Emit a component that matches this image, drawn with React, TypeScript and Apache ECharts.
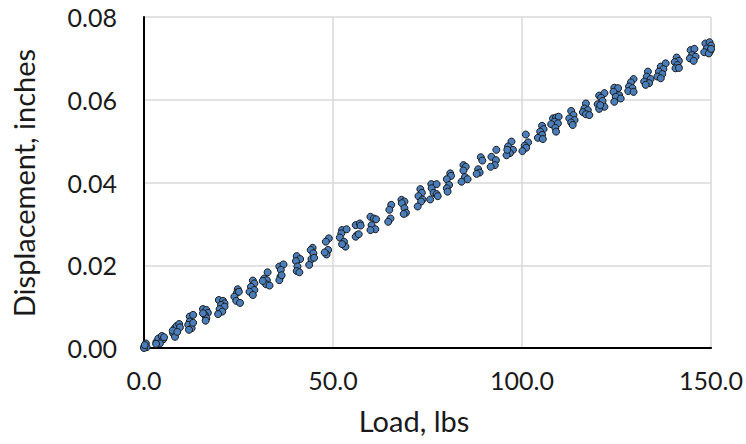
import React, { useEffect, useRef } from "react";
import * as echarts from "echarts";

// Load (lbs) and displacement (inches), cluster by cluster
const loads: number[] = [
  0.1, 0.5, 0.7, 0.0, 0.2,
  3.3, 3.8, 4.7, 5.1, 5.3, 4.2, 3.2,
  7.7, 8.2, 8.6, 9.3, 9.5, 8.2, 7.6, 8.8,
  12.1, 13.0, 12.1, 11.7, 12.6, 11.9, 13.0,
  15.6, 16.5, 16.9, 16.1, 16.5, 16.3, 15.6,
  19.8, 20.9, 21.3, 20.4, 21.3, 20.0, 20.7, 19.6,
  24.8, 24.6, 23.9, 24.4, 25.4, 25.1,
  28.8, 29.2, 28.3, 29.2, 27.9, 28.8,
  32.7, 31.8, 32.5, 32.3, 33.2, 31.4,
  35.8, 36.9, 36.2, 36.1, 35.8, 36.4,
  40.4, 41.3, 40.2, 40.6, 40.4, 41.1,
  44.6, 44.1, 44.8, 44.3, 43.7, 45.0,
  48.9, 48.1, 48.7, 48.3, 47.8,
  52.4, 53.6, 52.2, 51.8, 52.9, 53.3, 52.4,
  56.0, 57.1, 57.3, 56.4, 56.0, 56.8,
  59.9, 60.8, 61.4, 60.2, 61.2, 59.9,
  65.4, 64.9, 65.2, 64.6,
  68.1, 68.9, 68.2, 68.9, 69.3, 68.7,
  73.1, 73.5, 72.6, 73.7, 73.3, 72.4,
  76.0, 77.4, 76.1, 76.6, 77.4, 77.7, 75.7,
  81.0, 81.2, 80.1, 80.7, 80.1, 80.3,
  84.5, 85.1, 84.5, 84.9, 84.0, 85.6,
  89.1, 89.5, 88.4, 88.8, 88.0,
  93.2, 91.9, 93.1, 92.8, 91.7,
  97.2, 96.3, 97.6, 96.8, 95.9, 96.1,
  101.0, 101.6, 100.7, 101.1, 100.1,
  105.3, 105.7, 104.8, 105.3, 104.2, 105.5,
  108.2, 109.0, 109.7, 108.6, 109.5, 107.7, 108.8, 109.0,
  113.0, 113.6, 112.5, 113.9, 113.0, 113.4,
  116.9, 116.5, 117.4, 116.1, 116.9, 117.8,
  120.4, 121.8, 120.9, 121.3, 120.0, 121.8, 120.4, 120.7,
  124.4, 125.4, 124.2, 125.7, 124.8, 126.1, 124.4,
  129.5, 128.8, 128.3, 129.2, 128.1, 129.5,
  133.3, 133.0, 134.0, 132.3, 133.6, 132.7,
  136.7, 138.0, 137.4, 136.2, 137.1, 135.8, 136.7,
  140.9, 141.5, 140.4, 141.1, 140.6, 141.5,
  144.6, 145.6, 145.0, 145.9, 144.4, 145.4,
  148.5, 149.6, 150.0, 148.9, 149.8, 148.2, 149.4, 150.0,
];

const displacements: number[] = [
  0.0003, 0.0011, 0.0002, 0.0000, 0.0007,
  0.0015, 0.0023, 0.0029, 0.0021, 0.0026, 0.0011, 0.0010,
  0.0036, 0.0048, 0.0053, 0.0058, 0.0050, 0.0027, 0.0042, 0.0039,
  0.0076, 0.0080, 0.0064, 0.0056, 0.0048, 0.0044, 0.0061,
  0.0094, 0.0092, 0.0085, 0.0080, 0.0072, 0.0066, 0.0084,
  0.0116, 0.0114, 0.0108, 0.0104, 0.0100, 0.0094, 0.0088, 0.0082,
  0.0142, 0.0134, 0.0124, 0.0114, 0.0109, 0.0136,
  0.0163, 0.0156, 0.0148, 0.0140, 0.0136, 0.0128,
  0.0183, 0.0168, 0.0164, 0.0154, 0.0151, 0.0162,
  0.0197, 0.0202, 0.0189, 0.0172, 0.0164, 0.0176,
  0.0222, 0.0215, 0.0210, 0.0197, 0.0186, 0.0183,
  0.0242, 0.0237, 0.0229, 0.0215, 0.0201, 0.0218,
  0.0265, 0.0257, 0.0237, 0.0226, 0.0231,
  0.0285, 0.0287, 0.0277, 0.0267, 0.0257, 0.0245, 0.0251,
  0.0297, 0.0301, 0.0296, 0.0273, 0.0269, 0.0275,
  0.0317, 0.0313, 0.0311, 0.0297, 0.0287, 0.0285,
  0.0346, 0.0334, 0.0313, 0.0305,
  0.0358, 0.0354, 0.0350, 0.0338, 0.0327, 0.0324,
  0.0384, 0.0375, 0.0367, 0.0359, 0.0354, 0.0342,
  0.0396, 0.0396, 0.0386, 0.0375, 0.0372, 0.0367, 0.0359,
  0.0422, 0.0416, 0.0408, 0.0394, 0.0386, 0.0378,
  0.0442, 0.0438, 0.0429, 0.0413, 0.0402, 0.0408,
  0.0461, 0.0453, 0.0432, 0.0424, 0.0421,
  0.0479, 0.0462, 0.0454, 0.0442, 0.0438,
  0.0499, 0.0487, 0.0479, 0.0471, 0.0466, 0.0479,
  0.0516, 0.0497, 0.0489, 0.0484, 0.0476,
  0.0537, 0.0529, 0.0523, 0.0515, 0.0508, 0.0505,
  0.0555, 0.0557, 0.0559, 0.0547, 0.0543, 0.0541, 0.0532, 0.0523,
  0.0573, 0.0563, 0.0555, 0.0551, 0.0545, 0.0539,
  0.0591, 0.0579, 0.0575, 0.0570, 0.0565, 0.0563,
  0.0610, 0.0616, 0.0605, 0.0597, 0.0589, 0.0583, 0.0578, 0.0587,
  0.0629, 0.0628, 0.0619, 0.0611, 0.0607, 0.0603, 0.0595,
  0.0650, 0.0642, 0.0632, 0.0628, 0.0621, 0.0619,
  0.0668, 0.0656, 0.0650, 0.0644, 0.0640, 0.0636,
  0.0680, 0.0688, 0.0674, 0.0668, 0.0662, 0.0656, 0.0652,
  0.0702, 0.0694, 0.0691, 0.0684, 0.0676, 0.0677,
  0.0720, 0.0723, 0.0708, 0.0704, 0.0700, 0.0694,
  0.0736, 0.0739, 0.0731, 0.0724, 0.0718, 0.0715, 0.0712, 0.0723,
];

const xTitle = "Load, lbs";
const yTitle = "Displacement, inches";

const FONT = "Lato, 'Open Sans', sans-serif";
const TEXT_COLOR = "#1a1a1a";

export default function App() {
  const ref = useRef<HTMLDivElement>(null);

  useEffect(() => {
    if (!ref.current) return;
    const chart = echarts.init(ref.current, undefined, { renderer: "svg" });
    const data = loads.map((x, i) => [x, displacements[i]]);
    chart.setOption({
      animation: false,
      backgroundColor: "#ffffff",
      grid: { left: 144, right: 32, top: 17, bottom: 96, containLabel: false },
      xAxis: {
        type: "value",
        min: 0,
        max: 150,
        interval: 50,
        axisLine: { show: true, onZero: false, lineStyle: { color: "#000", width: 2 } },
        axisTick: { show: false },
        splitLine: { show: true, lineStyle: { color: "#d9d9d9", width: 1.5 } },
        axisLabel: {
          margin: 19,
          color: TEXT_COLOR,
          fontFamily: FONT,
          fontSize: 25,
          formatter: (v: number) => v.toFixed(1),
        },
      },
      yAxis: {
        type: "value",
        min: 0,
        max: 0.08,
        interval: 0.02,
        axisLine: { show: true, onZero: false, lineStyle: { color: "#000", width: 2 } },
        axisTick: { show: false },
        splitLine: { show: true, lineStyle: { color: "#d9d9d9", width: 1.5 } },
        axisLabel: {
          margin: 27,
          color: TEXT_COLOR,
          fontFamily: FONT,
          fontSize: 25,
          formatter: (v: number) => v.toFixed(2),
        },
      },
      graphic: [
        {
          type: "text",
          x: 414,
          y: 420,
          style: {
            text: xTitle,
            fill: TEXT_COLOR,
            font: `29px ${FONT}`,
            textAlign: "center",
            textVerticalAlign: "middle",
          },
        },
        {
          type: "text",
          x: 23,
          y: 183,
          rotation: Math.PI / 2,
          style: {
            text: yTitle,
            fill: TEXT_COLOR,
            font: `29px ${FONT}`,
            textAlign: "center",
            textVerticalAlign: "middle",
          },
        },
      ],
      series: [
        {
          type: "scatter",
          data,
          clip: false,
          symbol: "circle",
          symbolSize: 7,
          itemStyle: { color: "#4a7ebb", borderColor: "#1a1a1a", borderWidth: 1, opacity: 1 },
        },
      ],
    });
    return () => chart.dispose();
  }, []);

  return (
    <div
      ref={ref}
      style={{ position: "fixed", left: 0, top: 0, width: 746, height: 444, background: "#fff" }}
    />
  );
}
